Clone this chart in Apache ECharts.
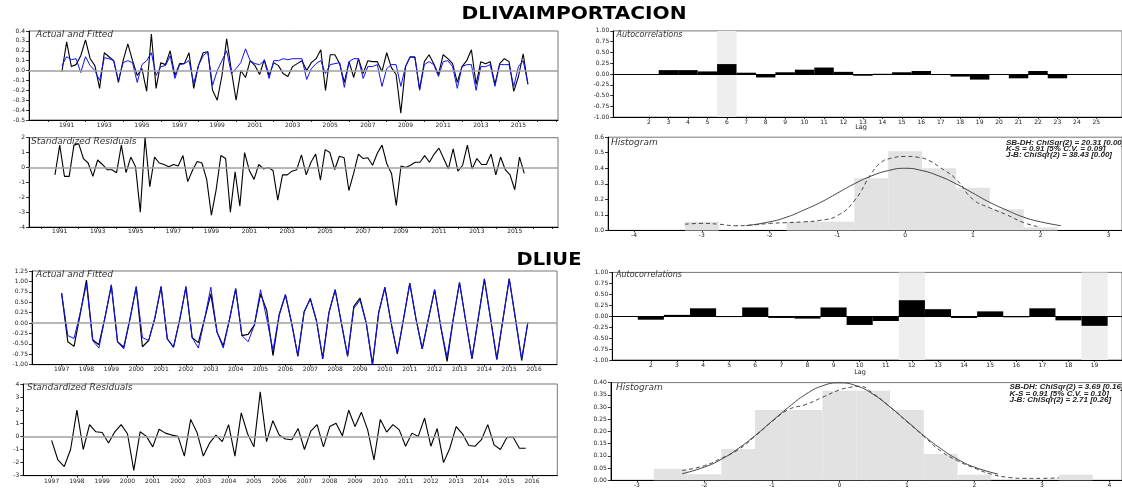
<!DOCTYPE html>
<html><head><meta charset="utf-8">
<script src="https://cdn.jsdelivr.net/npm/echarts@6/dist/echarts.min.js"></script>
<style>html,body{margin:0;padding:0;background:#fff}#c{width:1122px;height:488px}</style>
</head><body><div id="c"></div>
<script>
// ---------- DLIVAIMPORTACION (quarterly, 1990Q4 - 2015Q3) ----------
const impStart = 1990.75;
const impActual = [-0.01,0.29,0.04,0.06,0.15,0.31,0.12,0.05,-0.18,0.18,0.14,0.10,-0.12,0.10,0.27,0.10,-0.05,0.02,-0.21,0.37,
 -0.18,0.08,0.06,0.20,-0.05,0.07,0.07,0.18,-0.18,0.05,0.18,0.19,-0.20,-0.30,-0.05,0.32,0.00,-0.30,0.00,-0.07,
 0.10,0.05,-0.04,0.11,-0.05,0.08,0.05,-0.03,
 -0.06,0.04,0.07,0.10,0.00,0.08,0.12,0.21,-0.20,0.16,0.16,0.07,-0.12,0.09,-0.07,0.12,-0.03,0.10,0.09,0.09,
 -0.01,0.18,0.03,-0.04,-0.43,0.04,0.14,0.13,-0.19,0.09,0.16,0.07,-0.04,0.16,0.12,0.07,-0.12,0.04,0.10,0.21,
 -0.14,0.09,0.07,0.09,-0.14,0.07,0.12,0.09,-0.21,-0.06,0.17,-0.14];
const impFitted = [0.05,0.14,0.11,0.12,-0.02,0.14,0.05,0.00,-0.10,0.13,0.12,0.10,-0.10,0.08,0.10,0.08,-0.12,0.06,0.10,0.18,
 -0.05,0.04,0.05,0.15,-0.08,0.06,0.07,0.10,-0.13,0.05,0.15,0.19,-0.15,0.00,0.10,0.20,-0.03,0.02,0.08,0.22,
 0.10,0.07,0.06,0.10,-0.08,0.10,0.10,0.12,
 0.11,0.12,0.12,0.12,-0.09,0.02,0.07,0.10,-0.03,0.06,0.07,0.08,-0.17,0.09,0.12,0.12,-0.08,0.04,0.04,0.06,
 -0.16,0.02,0.06,0.06,-0.16,0.04,0.14,0.14,-0.20,0.06,0.09,0.06,-0.06,0.09,0.10,0.04,-0.18,0.04,0.06,0.06,
 -0.20,0.04,0.04,0.06,-0.16,0.06,0.06,0.06,-0.16,0.04,0.10,-0.13];
const impResid = [-0.5,1.5,-0.6,-0.6,1.5,1.6,0.6,0.3,-0.6,0.5,0.2,-0.15,-0.15,-0.35,1.5,-0.35,0.7,0.05,-3.0,2.0,
 -1.3,0.7,0.3,0.2,0.05,0.2,0.1,0.8,-0.95,-0.2,0.4,0.3,-0.8,-3.2,-1.5,0.8,0.6,-3.0,-0.3,-2.6,
 1.0,-0.2,-0.8,0.2,-0.1,0.0,-0.2,-2.2,
 -0.5,-0.5,-0.25,-0.15,0.85,-0.5,0.35,0.9,-0.85,1.2,1.0,-0.15,0.75,0.65,-1.55,-0.4,0.9,0.6,0.65,0.15,
 0.95,1.5,0.25,-0.4,-2.55,0.1,0.0,0.15,0.35,0.35,0.8,0.35,0.9,1.3,0.6,-0.1,1.25,-0.25,0.15,1.5,
 -0.1,0.6,0.2,0.2,0.9,-0.5,0.7,-0.15,-0.5,-1.5,0.7,-0.4];
const impYearLabels = [1991,1993,1995,1997,1999,2001,2003,2005,2007,2009,2011,2013,2015];
const impYearTicks = [1990,1991,1992,1993,1994,1995,1996,1997,1998,1999,2000,2001,2002,2003,2004,2005,2006,2007,2008,2009,2010,2011,2012,2013,2014,2015,2016,2017];
const impAcfLags = [2,3,4,5,6,7,8,9,10,11,12,13,14,15,16,17,18,19,20,21,22,23,24,25];
const impAcf = [0.0,0.09,0.09,0.06,0.23,0.03,-0.08,0.04,0.10,0.15,0.05,-0.04,0.005,0.04,0.07,0.0,-0.06,-0.13,0.0,-0.10,0.07,-0.10,0.0,0.0];
const impAcfShade = [6];
const impHistCenters = [-3,-2.5,-2,-1.5,-1,-0.5,0,0.5,1,1.5,2];
const impHistHeights = [0.056,0,0,0.056,0.056,0.336,0.51,0.40,0.275,0.136,0.018];
const impHistTicks = [-4,-3,-2,-1,0,1,2,3];
const impNormX = [-2.35,-2,-1.75,-1.5,-1.25,-1,-0.75,-0.5,-0.25,0,0.25,0.5,0.75,1,1.25,1.5,1.75,2,2.3];
const impNormY = [0.03,0.055,0.085,0.13,0.18,0.24,0.30,0.35,0.385,0.40,0.385,0.35,0.30,0.24,0.18,0.13,0.085,0.055,0.03];
const impKernX = [-3.25,-3,-2.75,-2.5,-2.25,-2,-1.75,-1.5,-1.25,-1,-0.75,-0.5,-0.35,-0.2,0,0.2,0.35,0.5,0.75,1,1.25,1.5,1.75,1.95];
const impKernY = [0.04,0.045,0.04,0.03,0.035,0.045,0.05,0.055,0.065,0.095,0.19,0.365,0.44,0.465,0.476,0.47,0.45,0.41,0.33,0.2,0.145,0.10,0.05,0.025];
const impStats = ['SB-DH: ChiSqr(2) = 20.31 [0.00]','K-S = 0.91 [5% C.V. = 0.09]','J-B: ChiSqr(2) = 38.43 [0.00]'];

// ---------- DLIUE (quarterly, 1997Q1 - 2015Q4) ----------
const ueStart = 1997;
const ueActual = [0.72,-0.45,-0.56,0.22, 1.03,-0.40,-0.52,0.15, 0.90,-0.45,-0.58,0.10, 0.86,-0.57,-0.42,0.12,
 0.87,-0.38,-0.58,0.08, 0.86,-0.35,-0.47,0.10, 0.70,-0.22,-0.55,0.08, 0.82,-0.30,-0.27,-0.05, 0.70,0.30,-0.78,0.20,
 0.68,0.00,-0.80,0.27, 0.58,0.05,-0.86,0.25, 0.80,0.00,-0.80,0.40, 0.60,0.00,-1.00,0.25, 0.86,0.00,-0.74,0.10,
 0.96,0.10,-0.62,0.10, 0.80,-0.10,-0.92,0.10, 0.98,0.05,-0.86,0.10, 1.06,0.10,-0.88,0.10, 1.07,0.10,-0.90,0.02];
const ueFitted = [0.72,-0.30,-0.37,0.25, 0.94,-0.42,-0.60,0.15, 0.92,-0.45,-0.62,0.10, 0.88,-0.35,-0.42,0.12,
 0.88,-0.38,-0.58,0.08, 0.88,-0.35,-0.60,0.10, 0.86,-0.22,-0.60,0.08, 0.83,-0.30,-0.45,-0.05, 0.80,0.10,-0.65,0.20,
 0.68,0.00,-0.78,0.25, 0.60,0.05,-0.84,0.25, 0.80,0.00,-0.78,0.35, 0.55,0.00,-1.00,0.25, 0.85,0.00,-0.72,0.10,
 0.95,0.10,-0.62,0.10, 0.80,-0.10,-0.82,0.10, 0.96,0.05,-0.84,0.10, 1.05,0.10,-0.86,0.10, 1.05,0.10,-0.86,0.02];
const ueResid = [-0.3,-1.8,-2.3,-1.0,2.0,-1.0,0.9,0.35,0.3,-0.5,0.35,0.9,0.2,-2.6,0.35,0.0,-0.8,0.55,0.25,0.1,
 0.0,-1.5,1.3,0.3,-1.5,-0.5,0.1,-0.4,0.9,-1.5,1.8,0.2,-0.8,3.4,-0.4,1.2,0.1,
 -0.2,-0.25,0.6,-1.0,0.4,0.9,-0.8,0.75,1.0,0.05,2.0,0.75,1.85,0.5,-1.8,1.3,0.33,0.9,0.5,-0.75,
 0.25,0.0,1.4,-0.75,0.6,-2.0,-0.9,0.75,0.2,-0.7,-0.75,-0.25,0.9,-0.65,-1.0,-0.1,-0.05,-0.9,-0.9];
const ueYearLabels = [1997,1998,1999,2000,2001,2002,2003,2004,2005,2006,2007,2008,2009,2010,2011,2012,2013,2014,2015,2016];
const ueAcfLags = [2,3,4,5,6,7,8,9,10,11,12,13,14,15,16,17,18,19];
const ueAcf = [-0.08,0.03,0.18,-0.02,0.20,-0.04,-0.055,0.20,-0.20,-0.11,0.365,0.16,-0.04,0.11,-0.025,0.18,-0.095,-0.22];
const ueAcfShade = [12,19];
const ueHistCenters = [-2.5,-2,-1.5,-1,-0.5,0,0.5,1,1.5,2,2.5,3,3.5];
const ueHistHeights = [0.047,0.025,0.128,0.288,0.288,0.367,0.367,0.288,0.108,0.023,0,0,0.023];
const ueHistTicks = [-3,-2,-1,0,1,2,3,4];
const ueNormX = [-2.33,-2,-1.75,-1.5,-1.25,-1,-0.75,-0.5,-0.25,0,0.25,0.5,0.75,1,1.25,1.5,1.75,2,2.35];
const ueNormY = [0.027,0.054,0.086,0.13,0.183,0.242,0.30,0.352,0.387,0.399,0.387,0.352,0.30,0.242,0.183,0.13,0.086,0.054,0.025];
const ueKernX = [-2.33,-2,-1.75,-1.5,-1.25,-1,-0.75,-0.5,-0.25,0,0.15,0.3,0.5,0.75,1,1.25,1.5,1.75,2,2.25,2.5,2.75,3,3.25];
const ueKernY = [0.04,0.06,0.09,0.125,0.18,0.24,0.29,0.31,0.34,0.37,0.38,0.385,0.355,0.30,0.24,0.18,0.12,0.08,0.05,0.025,0.012,0.008,0.008,0.01];
const ueStats = ['SB-DH: ChiSqr(2) = 3.69 [0.16]','K-S = 0.91 [5% C.V. = 0.10]','J-B: ChiSqr(2) = 2.71 [0.26]'];

// ---------- layout ----------
const F = 'DejaVu Sans';
const grids = [
 {left:29, top:31, width:529, height:89},        // 0 imp actual/fitted
 {left:29, top:137.7, width:529, height:89.3},   // 1 imp residuals
 {left:613.2, top:30.9, width:508.8, height:86.2}, // 2 imp acf
 {left:608, top:137.2, width:514, height:93.2},  // 3 imp hist
 {left:32, top:271, width:525, height:93.7},     // 4 ue actual/fitted
 {left:23.3, top:384, width:534, height:91.7},   // 5 ue residuals
 {left:612.2, top:272.4, width:509.8, height:87.6}, // 6 ue acf
 {left:610.8, top:382.6, width:511.2, height:97.7}  // 7 ue hist
].map(g => Object.assign({show:true, borderColor:'#777', borderWidth:1, backgroundColor:'rgba(0,0,0,0)',
  containLabel:false, outerBoundsMode:'none'}, g));

const lab = {fontSize:6, color:'#222', fontFamily:F};
function xAx(gi, min, max, labels, ticks, margin){
  return {type:'value', gridIndex:gi, min, max, splitLine:{show:false},
    axisLine:{show:true, onZero:false, lineStyle:{color:'#000', width:1}},
    axisTick:{show:true, customValues:ticks, length:2, lineStyle:{color:'#000', width:0.8}},
    axisLabel:Object.assign({customValues:labels, margin:margin, formatter:v=>String(Math.round(v))}, lab)};
}
function yAx(gi, min, max, interval, dec){
  return {type:'value', gridIndex:gi, min, max, interval, splitLine:{show:false},
    axisLine:{show:true, onZero:false, lineStyle:{color:'#000', width:1}},
    axisTick:{show:true, length:3, lineStyle:{color:'#000', width:0.8}},
    axisLabel:Object.assign({margin:4, formatter:v=>v.toFixed(dec)}, lab)};
}
const xAxis = [
 xAx(0, 1989, 2017.1, impYearLabels, impYearTicks, 2),
 xAx(1, 1989.38, 2017.28, impYearLabels, impYearTicks, 1.5),
 xAx(2, 0.16, 26.32, impAcfLags, impAcfLags, 2),
 xAx(3, -4.385, 3.2, impHistTicks, impHistTicks, 2),
 xAx(4, 1995.81, 2016.92, ueYearLabels, ueYearLabels, 2),
 xAx(5, 1995.88, 2017.0, ueYearLabels, ueYearLabels, 3),
 xAx(6, 0.52, 20.05, ueAcfLags, ueAcfLags, 2),
 xAx(7, -3.387, 4.186, ueHistTicks, ueHistTicks, 2)
];
const yAxis = [
 yAx(0, -0.5, 0.4, 0.1, 1),
 yAx(1, -4, 2, 1, 0),
 yAx(2, -1, 1, 0.25, 2),
 yAx(3, 0, 0.6, 0.1, 1),
 yAx(4, -1, 1.25, 0.25, 2),
 yAx(5, -3, 4, 1, 0),
 yAx(6, -1, 1, 0.25, 2),
 yAx(7, 0, 0.4, 0.05, 2)
];

const q = (start, arr) => arr.map((v,i) => [start + i*0.25, v]);
const pairs = (xs, ys) => xs.map((x,i) => [x, ys[i]]);
const zeroMark = (color, width) => ({silent:true, symbol:['none','none'], label:{show:false},
  lineStyle:{color, width, type:'solid'}, data:[{yAxis:0}]});
function lineS(gi, data, color, width, extra){
  return Object.assign({type:'line', xAxisIndex:gi, yAxisIndex:gi, data, showSymbol:false, symbol:'none',
    lineStyle:{color, width}, itemStyle:{color}, z:3, silent:true, animation:false}, extra||{});
}
function blocks(gi, centers, heights, half, color){
  return {type:'custom', xAxisIndex:gi, yAxisIndex:gi, data:pairs(centers, heights), z:2, silent:true, animation:false,
    renderItem:(p, api) => {
      const x = api.value(0), y = api.value(1);
      const a = api.coord([x-half, 0]), b = api.coord([x+half, y]);
      return {type:'rect', shape:{x:a[0], y:Math.min(a[1],b[1]), width:b[0]-a[0], height:Math.abs(b[1]-a[1])},
        style:{fill:color}};
    }};
}
function acfHelper(gi, lags, vals, shade){
  return lineS(gi, pairs(lags, vals), 'rgba(0,0,0,0)', 0, {z:1,
    markLine:zeroMark('#000', 1),
    markArea:{silent:true, itemStyle:{color:'#eeeeee'}, data:shade.map(s => [{xAxis:s-0.5},{xAxis:s+0.5}])}});
}

const series = [
 lineS(0, q(impStart, impActual), '#000', 1.1, {markLine:zeroMark('#a0a0a0', 1.5), z:2}),
 lineS(0, q(impStart, impFitted), '#1010ff', 1),
 lineS(1, q(impStart, impResid), '#000', 1.1, {markLine:zeroMark('#a0a0a0', 1.5)}),
 acfHelper(2, impAcfLags, impAcf, impAcfShade),
 blocks(2, impAcfLags, impAcf, 0.5, '#000'),
 blocks(3, impHistCenters, impHistHeights, 0.25, '#e2e2e2'),
 lineS(3, pairs(impNormX, impNormY), '#444', 1, {smooth:true}),
 lineS(3, pairs(impKernX, impKernY), '#444', 1, {smooth:true, lineStyle:{color:'#444', width:1, type:[4,3]}}),
 lineS(4, q(ueStart, ueActual), '#000', 1.2, {markLine:zeroMark('#a0a0a0', 1.5), z:2}),
 lineS(4, q(ueStart, ueFitted), '#1010ff', 1),
 lineS(5, q(ueStart, ueResid), '#000', 1.1, {markLine:zeroMark('#a0a0a0', 1.5)}),
 acfHelper(6, ueAcfLags, ueAcf, ueAcfShade),
 blocks(6, ueAcfLags, ueAcf, 0.5, '#000'),
 blocks(7, ueHistCenters, ueHistHeights, 0.25, '#e2e2e2'),
 lineS(7, pairs(ueNormX, ueNormY), '#444', 1, {smooth:true}),
 lineS(7, pairs(ueKernX, ueKernY), '#444', 1, {smooth:true, lineStyle:{color:'#444', width:1, type:[4,3]}})
];

function txt(text, x, y, font, fill, align, sx){
  return {type:'text', x, y, silent:true, z:10, scaleX:sx||1,
    style:{text, font, fill:fill||'#333', textAlign:align||'left', textVerticalAlign:'middle'}};
}
const pt = 'italic 9px "' + F + '"';
const st = 'italic bold 8px "Liberation Sans"';
const graphic = [
 txt('DLIVAIMPORTACION', 574, 14, 'bold 18px "' + F + '"', '#000', 'center', 1.12),
 txt('DLIUE', 549, 260, 'bold 18px "' + F + '"', '#000', 'center', 1.08),
 txt('Actual and Fitted', 36, 35, pt),
 txt('Standardized Residuals', 31, 141.5, pt),
 txt('Autocorrelations', 616.5, 34.5, 'italic 8px "' + F + '"'),
 txt('Histogram', 611, 142.5, pt),
 txt('Lag', 861, 127.5, '6.5px "' + F + '"', '#222', 'center'),
 txt('Actual and Fitted', 36, 275, pt),
 txt('Standardized Residuals', 27, 387.5, pt),
 txt('Autocorrelations', 616, 275, 'italic 8px "' + F + '"'),
 txt('Histogram', 616, 388, pt),
 txt('Lag', 860, 372.5, '6.5px "' + F + '"', '#222', 'center'),
 txt(impStats[0], 1006, 142.5, st, '#222'),
 txt(impStats[1], 1006, 148.8, st, '#222'),
 txt(impStats[2], 1006, 155.1, st, '#222'),
 txt(ueStats[0], 1009.5, 387.2, st, '#222'),
 txt(ueStats[1], 1009.5, 393.4, st, '#222'),
 txt(ueStats[2], 1009.5, 399.5, st, '#222')
];

const chart = echarts.init(document.getElementById('c'), null, {renderer:'canvas'});
chart.setOption({animation:false, backgroundColor:'#fff', grid:grids, xAxis, yAxis, series, graphic});
</script></body></html>
